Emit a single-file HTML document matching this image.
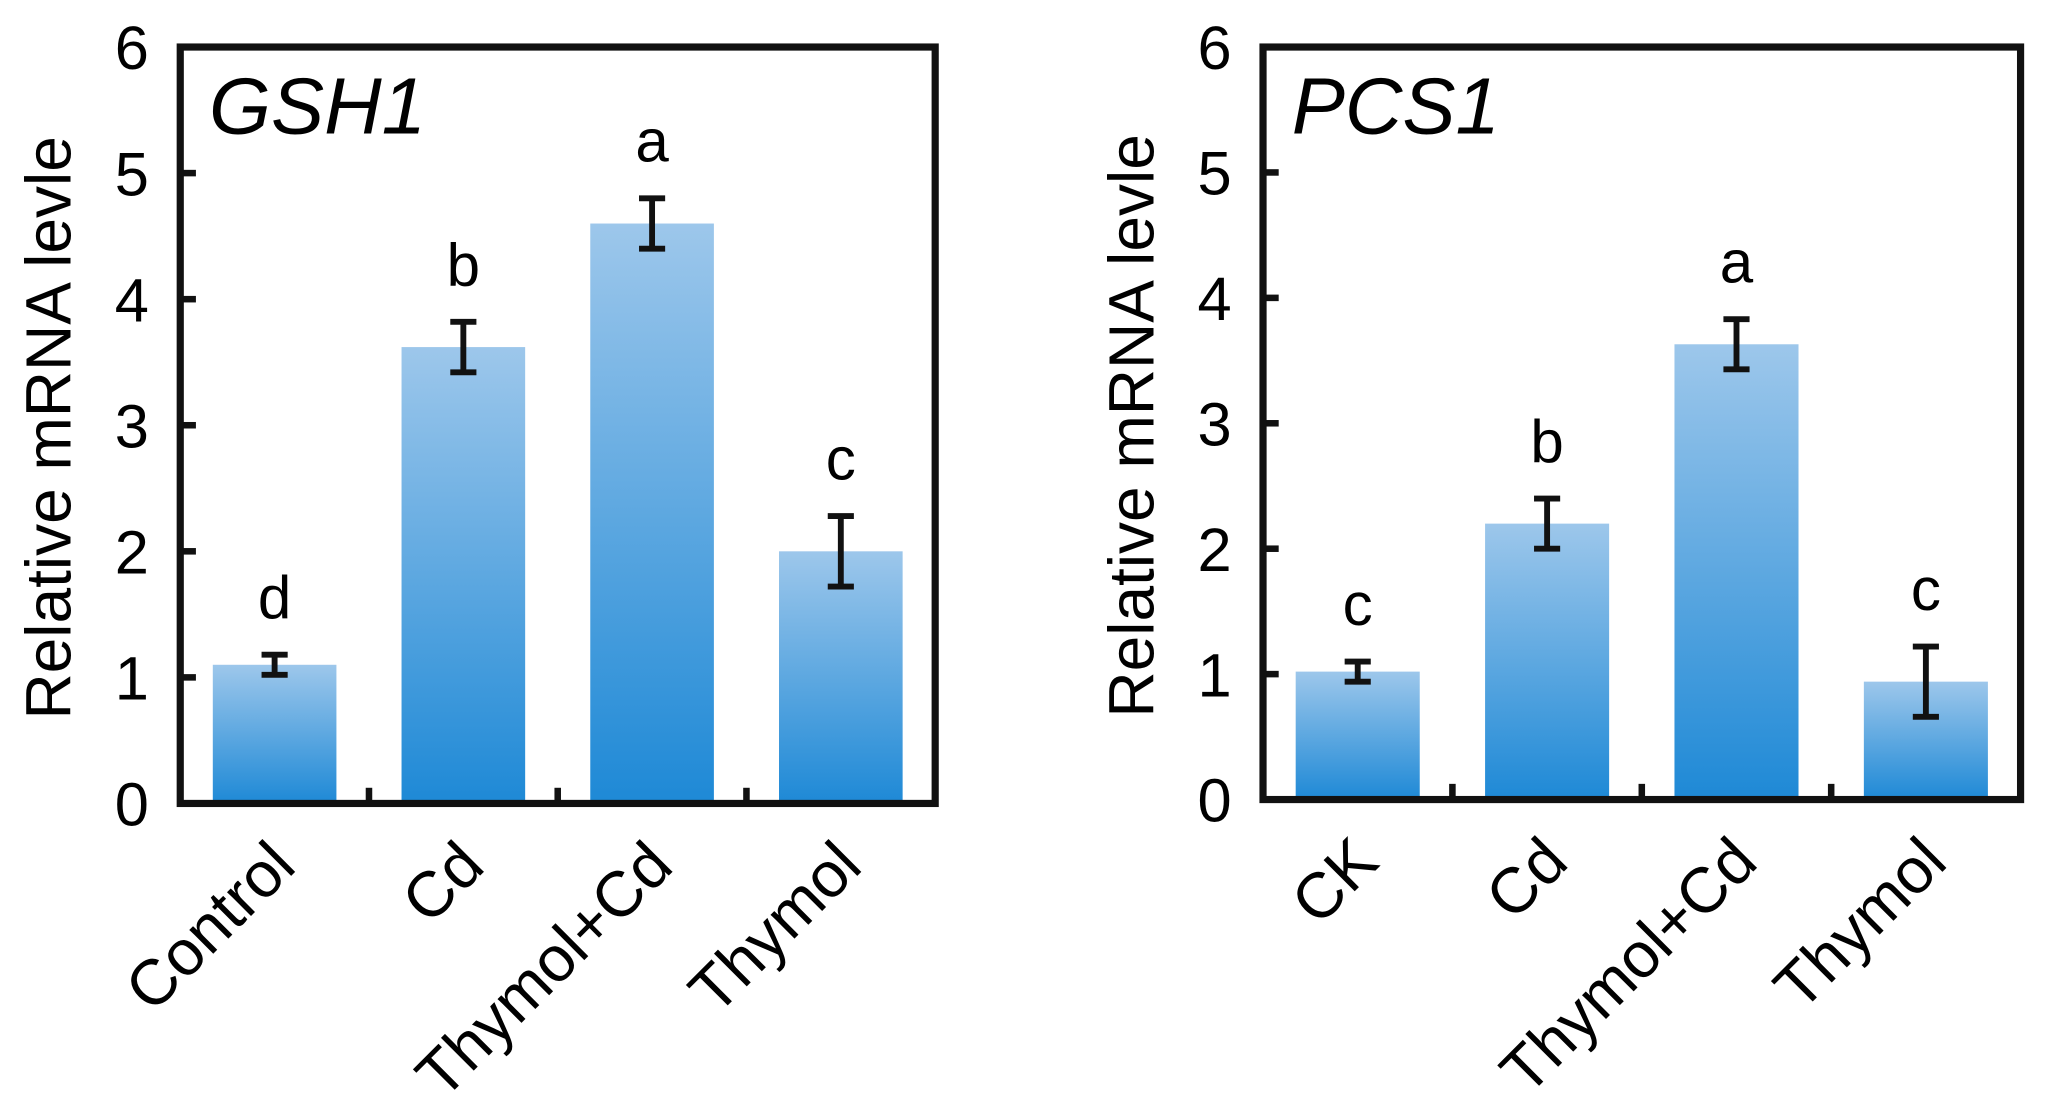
<!DOCTYPE html>
<html><head><meta charset="utf-8"><style>
html,body{margin:0;padding:0;background:#fff;}
svg{display:block;font-family:"Liberation Sans",Arial,sans-serif;}
</style></head><body>
<svg id="chart" width="2048" height="1117" viewBox="0 0 1568 855" preserveAspectRatio="none" xmlns="http://www.w3.org/2000/svg">
<defs><linearGradient id="bg" x1="0" y1="0" x2="0" y2="1"><stop offset="0" stop-color="#9dc7eb"/><stop offset="1" stop-color="#1e89d6"/></linearGradient></defs>
</svg>
<script>
const yTicks=[0,1,2,3,4,5,6];
const catsA=["Control","Cd","Thymol+Cd","Thymol"];
const valsA=[1.1,3.62,4.6,2.0];
const errA=[0.08,0.2,0.2,0.28];
const letA=["d","b","a","c"];
const catsB=["CK","Cd","Thymol+Cd","Thymol"];
const valsB=[1.02,2.2,3.63,0.94];
const errB=[0.08,0.2,0.2,0.28];
const letB=["c","b","a","c"];
const svg=document.getElementById('chart');
const NS="http://www.w3.org/2000/svg";
function mk(t,a,txt){const e=document.createElementNS(NS,t);for(const k in a)e.setAttribute(k,a[k]);if(txt!==undefined)e.textContent=txt;svg.appendChild(e);return e;}
function panel(id,x0,x1,y0,y1,title,cats,vals,errs,lets){
  const y=v=>y1-(v/6)*(y1-y0);
  const cw=(x1-x0)/cats.length;
  const x=i=>x0+cw*(i+0.5);
  const bw=cw*0.655;
  for(let i=0;i<cats.length;i++){
    const r=mk('rect',{x:x(i)-bw/2,y:y(vals[i]),width:bw,height:y1-y(vals[i]),fill:'url(#bg)'});
    
    
    const t=y(vals[i]+errs[i]),b=y(vals[i]-errs[i]);
    const g=mk('path',{d:`M${x(i)},${t}V${b}M${x(i)-10},${t}H${x(i)+10}M${x(i)-10},${b}H${x(i)+10}`,stroke:'#111','stroke-width':4.5,fill:'none'});
    
    
    const l=mk('text',{x:x(i),y:t-28,'font-size':46,'text-anchor':'middle'},lets[i]);
    
    
    const xl=mk('text',{x:0,y:0,'font-size':49,'text-anchor':'end',transform:`translate(${x(i)+18},${y1+50}) rotate(-45)`},cats[i]);
    
    
    if(i>0){const tk=mk('line',{x1:x0+cw*i,x2:x0+cw*i,y1:y1,y2:y1-12,stroke:'#111','stroke-width':5});
      
      }
  }
  yTicks.forEach(v=>{
    const tk=mk('line',{x1:x0,x2:x0+12,y1:y(v),y2:y(v),stroke:'#111','stroke-width':5});
    
    
    const tl=mk('text',{x:x0-24,y:y(v)+17,'font-size':47,'text-anchor':'end'},String(v));
    
    
  });
  const fr=mk('rect',{x:x0,y:y0,width:x1-x0,height:y1-y0,fill:'none',stroke:'#111','stroke-width':5.5});
  
  
  const tt=mk('text',{x:x0+22,y:y0+66,'font-size':61,'font-style':'italic'},title);
  
  
  const yt=mk('text',{x:0,y:0,'font-size':49,'text-anchor':'middle',transform:`translate(${x0-84},${(y0+y1)/2+2}) rotate(-90)`},'Relative mRNA levle');
  
  
}
panel('gsh1',138,716,36,615,'GSH1',catsA,valsA,errA,letA);
panel('pcs1',967,1547,36,612,'PCS1',catsB,valsB,errB,letB);
</script>
</body></html>
